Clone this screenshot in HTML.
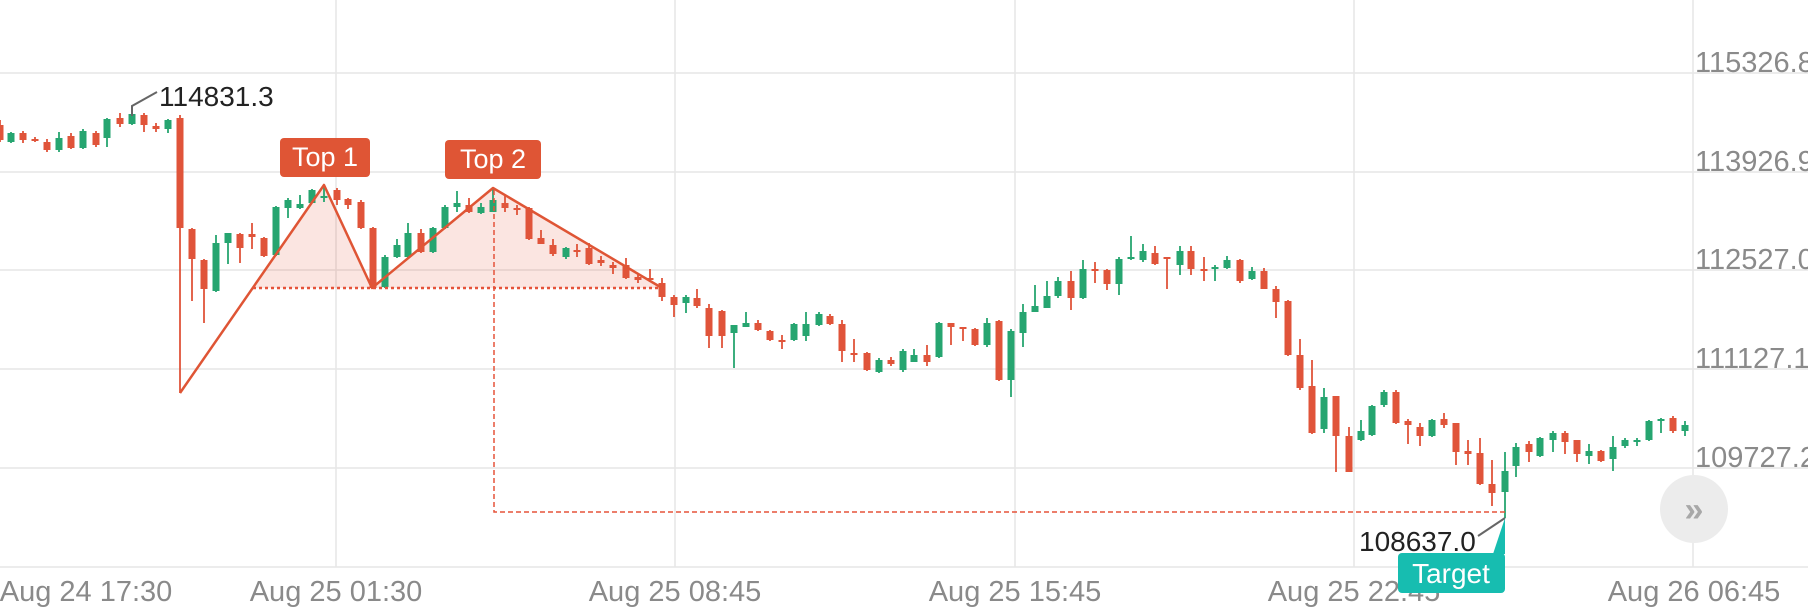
<!DOCTYPE html>
<html><head><meta charset="utf-8"><style>
html,body{margin:0;padding:0;background:#fff;}
svg{display:block;}
text{font-family:"Liberation Sans",sans-serif;}
</style></head><body>
<svg id="s" width="1808" height="611" viewBox="0 0 1808 611" xmlns="http://www.w3.org/2000/svg">
<g stroke="#e6e6e6" stroke-width="1.5">
<line x1="0" y1="73" x2="1808" y2="73"/><line x1="0" y1="172" x2="1808" y2="172"/>
<line x1="0" y1="270" x2="1808" y2="270"/><line x1="0" y1="369" x2="1808" y2="369"/>
<line x1="0" y1="468" x2="1808" y2="468"/><line x1="0" y1="567" x2="1808" y2="567"/>
<line x1="336" y1="0" x2="336" y2="567"/><line x1="675" y1="0" x2="675" y2="567"/>
<line x1="1015" y1="0" x2="1015" y2="567"/><line x1="1354" y1="0" x2="1354" y2="567"/>
<line x1="1693" y1="0" x2="1693" y2="567"/>
</g>
<g fill="#8a8a8a" font-size="29">
<text x="1695" y="72">115326.8</text><text x="1695" y="171">113926.9</text>
<text x="1695" y="269">112527.0</text><text x="1695" y="368">111127.1</text>
<text x="1695" y="467">109727.2</text>
</g>
<g fill="#8a8a8a" font-size="29" text-anchor="middle">
<text x="86" y="601">Aug 24 17:30</text><text x="336" y="601">Aug 25 01:30</text>
<text x="675" y="601">Aug 25 08:45</text><text x="1015" y="601">Aug 25 15:45</text>
<text x="1354" y="601">Aug 25 22:45</text><text x="1694" y="601">Aug 26 06:45</text>
</g>
<polygon points="253,288 324,185 372,288 493,188 662,288" fill="rgba(229,83,52,0.15)"/>
<g id="c"></g>
<polyline points="180,393 324,185 372,288 493,188 662,288" fill="none" stroke="#df5535" stroke-width="2.5" stroke-linejoin="round"/>
<line x1="253" y1="288" x2="662" y2="288" stroke="#e5533a" stroke-width="2.5" stroke-dasharray="3,3"/>
<polyline points="494,190 494,512 1505,512" fill="none" stroke="#e5533a" stroke-width="1.5" stroke-dasharray="5,3"/>
<rect x="280" y="138" width="90" height="39" rx="4" fill="#df5535"/>
<text x="325" y="166" fill="#fff" font-size="27" text-anchor="middle">Top 1</text>
<rect x="445" y="140" width="96" height="39" rx="4" fill="#df5535"/>
<text x="493" y="168" fill="#fff" font-size="27" text-anchor="middle">Top 2</text>
<polyline points="132,116 132,106 157,92" fill="none" stroke="#666" stroke-width="2"/>
<text x="159" y="106" fill="#222" font-size="28">114831.3</text>
<line x1="1478" y1="536" x2="1505" y2="518" stroke="#666" stroke-width="2"/>
<text x="1359" y="551" fill="#222" font-size="28">108637.0</text>
<polygon points="1493,554 1505,518 1505,554" fill="#17bdb0"/>
<rect x="1398" y="553" width="107" height="40" rx="4" fill="#17bdb0"/>
<text x="1451" y="583" fill="#fff" font-size="28" text-anchor="middle">Target</text>
<circle cx="1694" cy="509" r="34" fill="#ececec"/>
<text x="1694" y="521" fill="#a8a8a8" font-size="34" text-anchor="middle" font-weight="bold">»</text>
</svg>
<script>
var R="#e0543a",G="#26a570";
var d=[
[0,125,140,120,142,R],[11,133,142,132,143,G],[23,133,140,131,143,R],[35,139,141,137,142,R],[47,142,150,139,152,R],
[59,138,150,132,152,G],[71,136,148,133,149,R],[83,131,148,129,149,G],[96,133,145,131,147,R],[107,119,138,118,147,G],
[120,118,124,113,127,R],[132,114,124,107,125,G],[144,115,125,113,132,R],[156,126,129,123,132,R],[168,120,129,119,133,G],
[180,118,228,115,393,R],[192,229,259,228,301,R],[204,260,289,259,323,R],[216,243,291,235,292,G],[228,233,243,233,264,G],
[240,234,248,233,263,R],[252,234,237,223,249,R],[264,238,256,237,257,R],[276,207,255,206,256,G],[288,200,208,198,218,G],
[300,204,208,195,209,G],[312,190,203,189,203,G],[324,196,198,187,202,G],[337,190,200,188,205,R],[348,199,205,198,209,R],
[361,202,228,200,229,R],[373,228,288,227,289,R],[385,257,287,255,288,G],[397,245,257,239,258,G],[408,233,257,223,258,G],
[421,233,252,229,253,R],[433,228,252,227,253,G],[445,207,228,205,229,G],[457,203,207,191,212,G],[469,205,212,198,213,R],
[481,207,213,203,214,G],[493,200,212,189,212,G],[505,203,208,195,212,R],[517,208,210,205,215,R],[529,208,239,207,240,R],
[541,238,244,230,244,R],[553,245,254,239,256,R],[566,248,257,247,259,G],[577,250,252,244,257,R],[589,248,264,243,265,R],
[601,260,263,256,266,R],[613,265,268,262,274,R],[626,265,278,258,279,R],[638,277,280,273,283,R],[650,278,280,269,282,R],
[662,283,297,278,301,R],[674,297,305,295,317,R],[686,297,303,295,313,G],[697,298,306,289,308,R],[709,308,336,304,348,R],
[722,311,336,310,348,R],[734,325,333,325,368,G],[746,323,327,312,327,G],[758,323,330,320,331,R],[770,331,340,330,341,R],
[782,340,342,335,349,R],[794,324,340,323,341,G],[806,324,336,312,341,G],[819,314,325,312,326,G],[830,316,324,314,325,R],
[842,324,351,320,362,R],[854,353,355,339,362,R],[867,353,370,352,371,R],[879,360,372,358,373,G],[891,360,364,357,366,R],
[903,351,370,349,372,G],[914,355,362,349,362,G],[927,355,362,345,366,R],[939,323,357,322,358,G],[951,323,327,323,345,R],
[963,327,329,327,341,R],[975,329,345,328,346,R],[987,323,345,318,347,G],[999,321,380,320,381,R],[1011,331,380,329,397,G],
[1023,312,333,304,347,G],[1035,306,312,285,312,G],[1047,296,308,281,308,G],[1058,281,296,277,298,G],[1071,281,298,271,310,R],
[1083,269,298,260,299,G],[1095,269,271,262,283,R],[1107,270,284,269,290,R],[1119,259,284,257,295,G],[1131,257,259,236,260,G],
[1143,251,260,244,262,G],[1155,253,264,246,265,R],[1167,257,259,257,289,R],[1180,251,265,246,275,G],[1191,251,269,246,275,R],
[1204,269,271,257,281,R],[1215,267,269,265,281,G],[1227,260,268,256,269,G],[1240,260,281,259,283,R],[1252,271,279,267,280,G],
[1264,271,289,268,289,R],[1276,289,302,286,318,R],[1288,301,355,300,356,R],[1300,355,388,339,390,R],[1312,386,433,360,434,R],
[1324,397,429,388,433,G],[1336,396,436,396,472,R],[1349,436,472,427,472,R],[1361,431,440,420,441,G],[1372,406,435,405,436,G],
[1384,392,405,390,407,G],[1396,392,423,390,424,R],[1408,421,425,419,444,R],[1420,427,436,423,446,R],[1432,420,436,419,437,G],
[1444,419,425,413,428,R],[1456,423,452,423,465,R],[1468,451,454,440,465,R],[1480,453,484,438,485,R],[1492,484,493,460,506,R],
[1505,471,492,452,518,G],[1516,447,466,443,477,G],[1529,444,452,441,462,R],[1540,438,456,437,457,G],[1553,433,440,431,452,G],
[1565,433,442,431,454,R],[1577,440,454,440,462,R],[1589,451,456,444,464,G],[1601,451,461,450,462,R],[1613,447,459,436,471,G],
[1625,440,446,438,448,G],[1637,440,442,438,446,G],[1649,421,440,420,441,G],[1661,419,421,418,433,G],[1673,418,431,416,433,R],
[1685,425,431,421,436,G]];
var h="";
d.forEach(function(c){var x=c[0],bt=c[1],bb=Math.max(c[2],c[1]+2);
h+='<line x1="'+x+'" y1="'+c[3]+'" x2="'+x+'" y2="'+c[4]+'" stroke="'+c[5]+'" stroke-width="1.8"/>';
h+='<rect x="'+(x-3.5)+'" y="'+bt+'" width="7" height="'+(bb-bt)+'" fill="'+c[5]+'"/>';});
document.getElementById("c").innerHTML=h;
</script>
</body></html>
